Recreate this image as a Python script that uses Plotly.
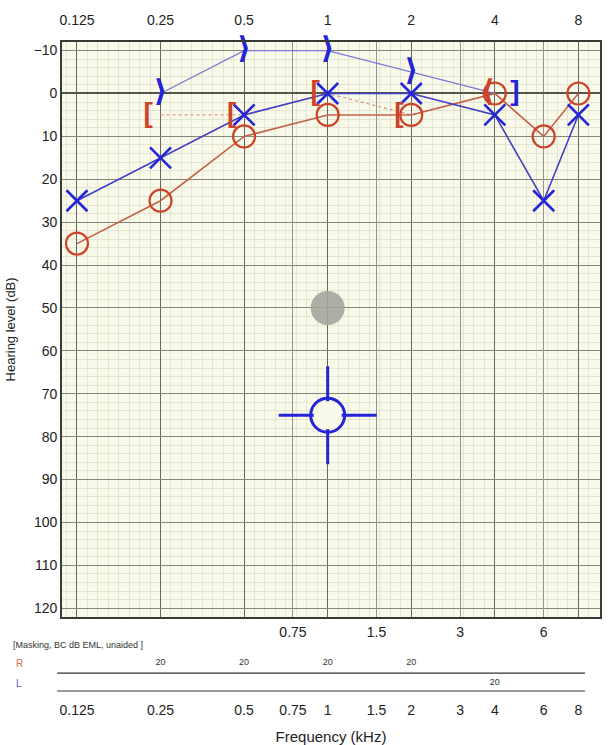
import plotly.graph_objects as go

# ---------------- data ----------------
freqs = [0.125, 0.25, 0.5, 1, 2, 4, 6, 8]
right_ac = [35, 25, 10, 5, 5, 0, 10, 0]          # red O
left_ac = [25, 15, 5, 0, 0, 5, 25, 5]            # blue X

right_bc_freqs = [0.25, 0.5, 1, 2]               # red [ (masked)
right_bc = [5, 5, 0, 5]
right_ubc_freqs = [4]                            # red < (unmasked)
right_ubc = [0]

left_bc_freqs = [0.25, 0.5, 1, 2]                # blue > (unmasked)
left_bc = [0, -10, -10, -5]
left_mbc_freqs = [4]                             # blue ] (masked)
left_mbc = [0]

gray_freq, gray_level = [1], [50]
aided_freq, aided_level = [1], [75]

octave_ticks = [0.125, 0.25, 0.5, 1, 2, 4, 8]
octave_labels = ["0.125", "0.25", "0.5", "1", "2", "4", "8"]
half_ticks = [0.75, 1.5, 3, 6]
half_labels = ["0.75", "1.5", "3", "6"]
all_ticks = [0.125, 0.25, 0.5, 0.75, 1, 1.5, 2, 3, 4, 6, 8]
all_labels = ["0.125", "0.25", "0.5", "0.75", "1", "1.5", "2", "3", "4", "6", "8"]
y_ticks = list(range(-10, 130, 10))

mask_r_freqs = [0.25, 0.5, 1, 2]
mask_r_vals = ["20", "20", "20", "20"]
mask_l_freqs = [4]
mask_l_vals = ["20"]

# ---------------- style ----------------
RED = "#cc4327"
RED_LINE = "#c2604a"
BLUE = "#2424d8"
BLUE_LINE = "#4040c4"
XRANGE = [-0.957, 0.981]
BG = "#f9f9ea"
minor_x = [0.125 * 2 ** (i / 8) for i in range(-2, 54)]
NB = "\u00a0"

fig = go.Figure()

# BC connecting lines (faint)
fig.add_trace(go.Scatter(x=left_bc_freqs + left_mbc_freqs, y=left_bc + left_mbc, mode="lines",
                         line=dict(color="#7a7ad6", width=1.3), hoverinfo="skip", showlegend=False))
fig.add_trace(go.Scatter(x=right_bc_freqs + right_ubc_freqs, y=right_bc + right_ubc, mode="lines",
                         line=dict(color="#d89a8a", width=1.3, dash="dot"), hoverinfo="skip", showlegend=False))

# AC lines + markers
fig.add_trace(go.Scatter(x=freqs, y=right_ac, mode="lines+markers",
                         line=dict(color=RED_LINE, width=1.6),
                         marker=dict(symbol="circle-open", size=22, color=RED, line=dict(width=2.2)),
                         showlegend=False))
fig.add_trace(go.Scatter(x=freqs, y=left_ac, mode="lines+markers",
                         line=dict(color=BLUE_LINE, width=1.6),
                         marker=dict(symbol="x-thin-open", size=21, color=BLUE, line=dict(width=2.6, color=BLUE)),
                         showlegend=False))

# BC symbols as text glyphs
fig.add_trace(go.Scatter(x=right_bc_freqs, y=right_bc, mode="text", cliponaxis=False,
                         text=["<b>[" + NB + "</b>"] * len(right_bc),
                         textposition="middle left",
                         textfont=dict(family="Liberation Sans", size=28, color=RED), showlegend=False))
fig.add_trace(go.Scatter(x=right_ubc_freqs, y=right_ubc, mode="text", cliponaxis=False,
                         text=["<b>⟨</b>"] * len(right_ubc),
                         textposition="middle left",
                         textfont=dict(family="DejaVu Sans", size=30, color=RED), showlegend=False))
fig.add_trace(go.Scatter(x=left_bc_freqs, y=left_bc, mode="text", cliponaxis=False,
                         text=["<b>⟩</b>"] * len(left_bc),
                         textposition="middle center",
                         textfont=dict(family="DejaVu Sans", size=30, color=BLUE), showlegend=False))
fig.add_trace(go.Scatter(x=left_mbc_freqs, y=left_mbc, mode="text", cliponaxis=False,
                         text=["<b>" + NB + NB + "]</b>"] * len(left_mbc),
                         textposition="middle right",
                         textfont=dict(family="Liberation Sans", size=28, color=BLUE), showlegend=False))

# gray dot (on overlay axis so that axis is drawn)
fig.add_trace(go.Scatter(x=gray_freq, y=gray_level, mode="markers", xaxis="x3", yaxis="y",
                         marker=dict(symbol="circle", size=34, color="#a3a69b", opacity=0.9),
                         showlegend=False))

# aided target symbol
fig.add_trace(go.Scatter(x=aided_freq, y=aided_level, mode="markers",
                         marker=dict(symbol="cross-thin-open", size=70, color=BLUE, line=dict(width=3, color=BLUE)),
                         showlegend=False))
fig.add_trace(go.Scatter(x=aided_freq, y=aided_level, mode="markers",
                         marker=dict(symbol="circle", size=28, color=BG, line=dict(width=0)),
                         showlegend=False))
fig.add_trace(go.Scatter(x=aided_freq, y=aided_level, mode="markers",
                         marker=dict(symbol="circle-open", size=34, color=BLUE, line=dict(width=3, color=BLUE)),
                         showlegend=False))

# masking table values
fig.add_trace(go.Scatter(x=mask_r_freqs, y=[1] * len(mask_r_freqs), mode="text", text=mask_r_vals,
                         xaxis="x2", yaxis="y2", textfont=dict(size=9, color="#333"), showlegend=False))
fig.add_trace(go.Scatter(x=mask_l_freqs, y=[0] * len(mask_l_freqs), mode="text", text=mask_l_vals,
                         xaxis="x2", yaxis="y2", textfont=dict(size=9, color="#333"), showlegend=False))

fig.update_layout(
    width=614, height=745,
    margin=dict(l=62, r=14, t=42, b=52, autoexpand=False),
    paper_bgcolor="white",
    plot_bgcolor="white",
    font=dict(family="Liberation Sans, Arial, sans-serif", color="#222"),
    xaxis=dict(type="log", range=XRANGE, side="top", anchor="y", domain=[0, 1], automargin=False,
               tickmode="array", tickvals=octave_ticks, ticktext=octave_labels,
               tickfont=dict(size=14), ticks="outside", ticklen=10, tickcolor="rgba(0,0,0,0)",
               showgrid=True, gridcolor="#67675c", gridwidth=1.3,
               showline=True, mirror=True, linecolor="#3a3a34", linewidth=1.6,
               zeroline=False,
               minor=dict(tickmode="array", tickvals=minor_x, showgrid=True,
                          gridcolor="#e4e4d2", gridwidth=0.6, ticks="")),
    xaxis3=dict(type="log", range=XRANGE, side="bottom", overlaying="x", anchor="y", automargin=False,
                tickmode="array", tickvals=half_ticks, ticktext=half_labels,
                tickfont=dict(size=14), ticks="outside", ticklen=2, tickcolor="rgba(0,0,0,0)",
                showgrid=True, gridcolor="#95958a", gridwidth=1.0, showline=False, zeroline=False),
    yaxis=dict(domain=[0.117, 1], range=[122, -12], anchor="x", automargin=False,
               tickmode="array", tickvals=y_ticks, tickfont=dict(size=14), ticks="",
               title=dict(text="Hearing level (dB)", font=dict(size=13), standoff=15),
               showgrid=True, gridcolor="#85857a", gridwidth=1.2,
               zeroline=True, zerolinecolor="#55554c", zerolinewidth=1.6,
               showline=True, mirror=True, linecolor="#3a3a34", linewidth=1.6,
               minor=dict(dtick=2, showgrid=True, gridcolor="#e4e4d2", gridwidth=0.6, ticks="")),
    xaxis2=dict(type="log", range=XRANGE, anchor="y2", domain=[0, 1], automargin=False,
                tickmode="array", tickvals=all_ticks, ticktext=all_labels,
                tickfont=dict(size=14), ticks="outside", ticklen=4, tickcolor="rgba(0,0,0,0)",
                showgrid=False, showline=False, zeroline=False,
                title=dict(text="Frequency (kHz)", font=dict(size=15), standoff=14)),
    yaxis2=dict(domain=[0, 0.058], range=[-0.5, 1.4], anchor="x2", visible=False, automargin=False),
    shapes=[
        dict(type="rect", xref="x domain", yref="y domain", x0=0, x1=1, y0=0, y1=1,
             fillcolor=BG, line=dict(width=0), layer="below"),
        dict(type="line", xref="paper", yref="y2", x0=-0.009, x1=0.972, y0=0.5, y1=0.5,
             line=dict(color="#333", width=1.2)),
        dict(type="line", xref="paper", yref="y2", x0=-0.009, x1=0.972, y0=-0.4, y1=-0.4,
             line=dict(color="#333", width=1.2)),
    ],
    annotations=[
        dict(text="[Masking, BC dB EML, unaided ]", xref="paper", yref="paper", x=-0.095, y=0.0737,
             xanchor="left", yanchor="middle", showarrow=False, font=dict(size=9, color="#333")),
        dict(text="R", xref="paper", yref="y2", x=-0.09, y=1, xanchor="left", yanchor="middle",
             showarrow=False, font=dict(size=10, color="#e06a5a")),
        dict(text="L", xref="paper", yref="y2", x=-0.09, y=0, xanchor="left", yanchor="middle",
             showarrow=False, font=dict(size=10, color="#5a5ad0")),
    ],
)

fig.write_html("out.html", config={"displayModeBar": False},
               post_script="document.body.style.margin='0';document.body.style.overflow='hidden';")
